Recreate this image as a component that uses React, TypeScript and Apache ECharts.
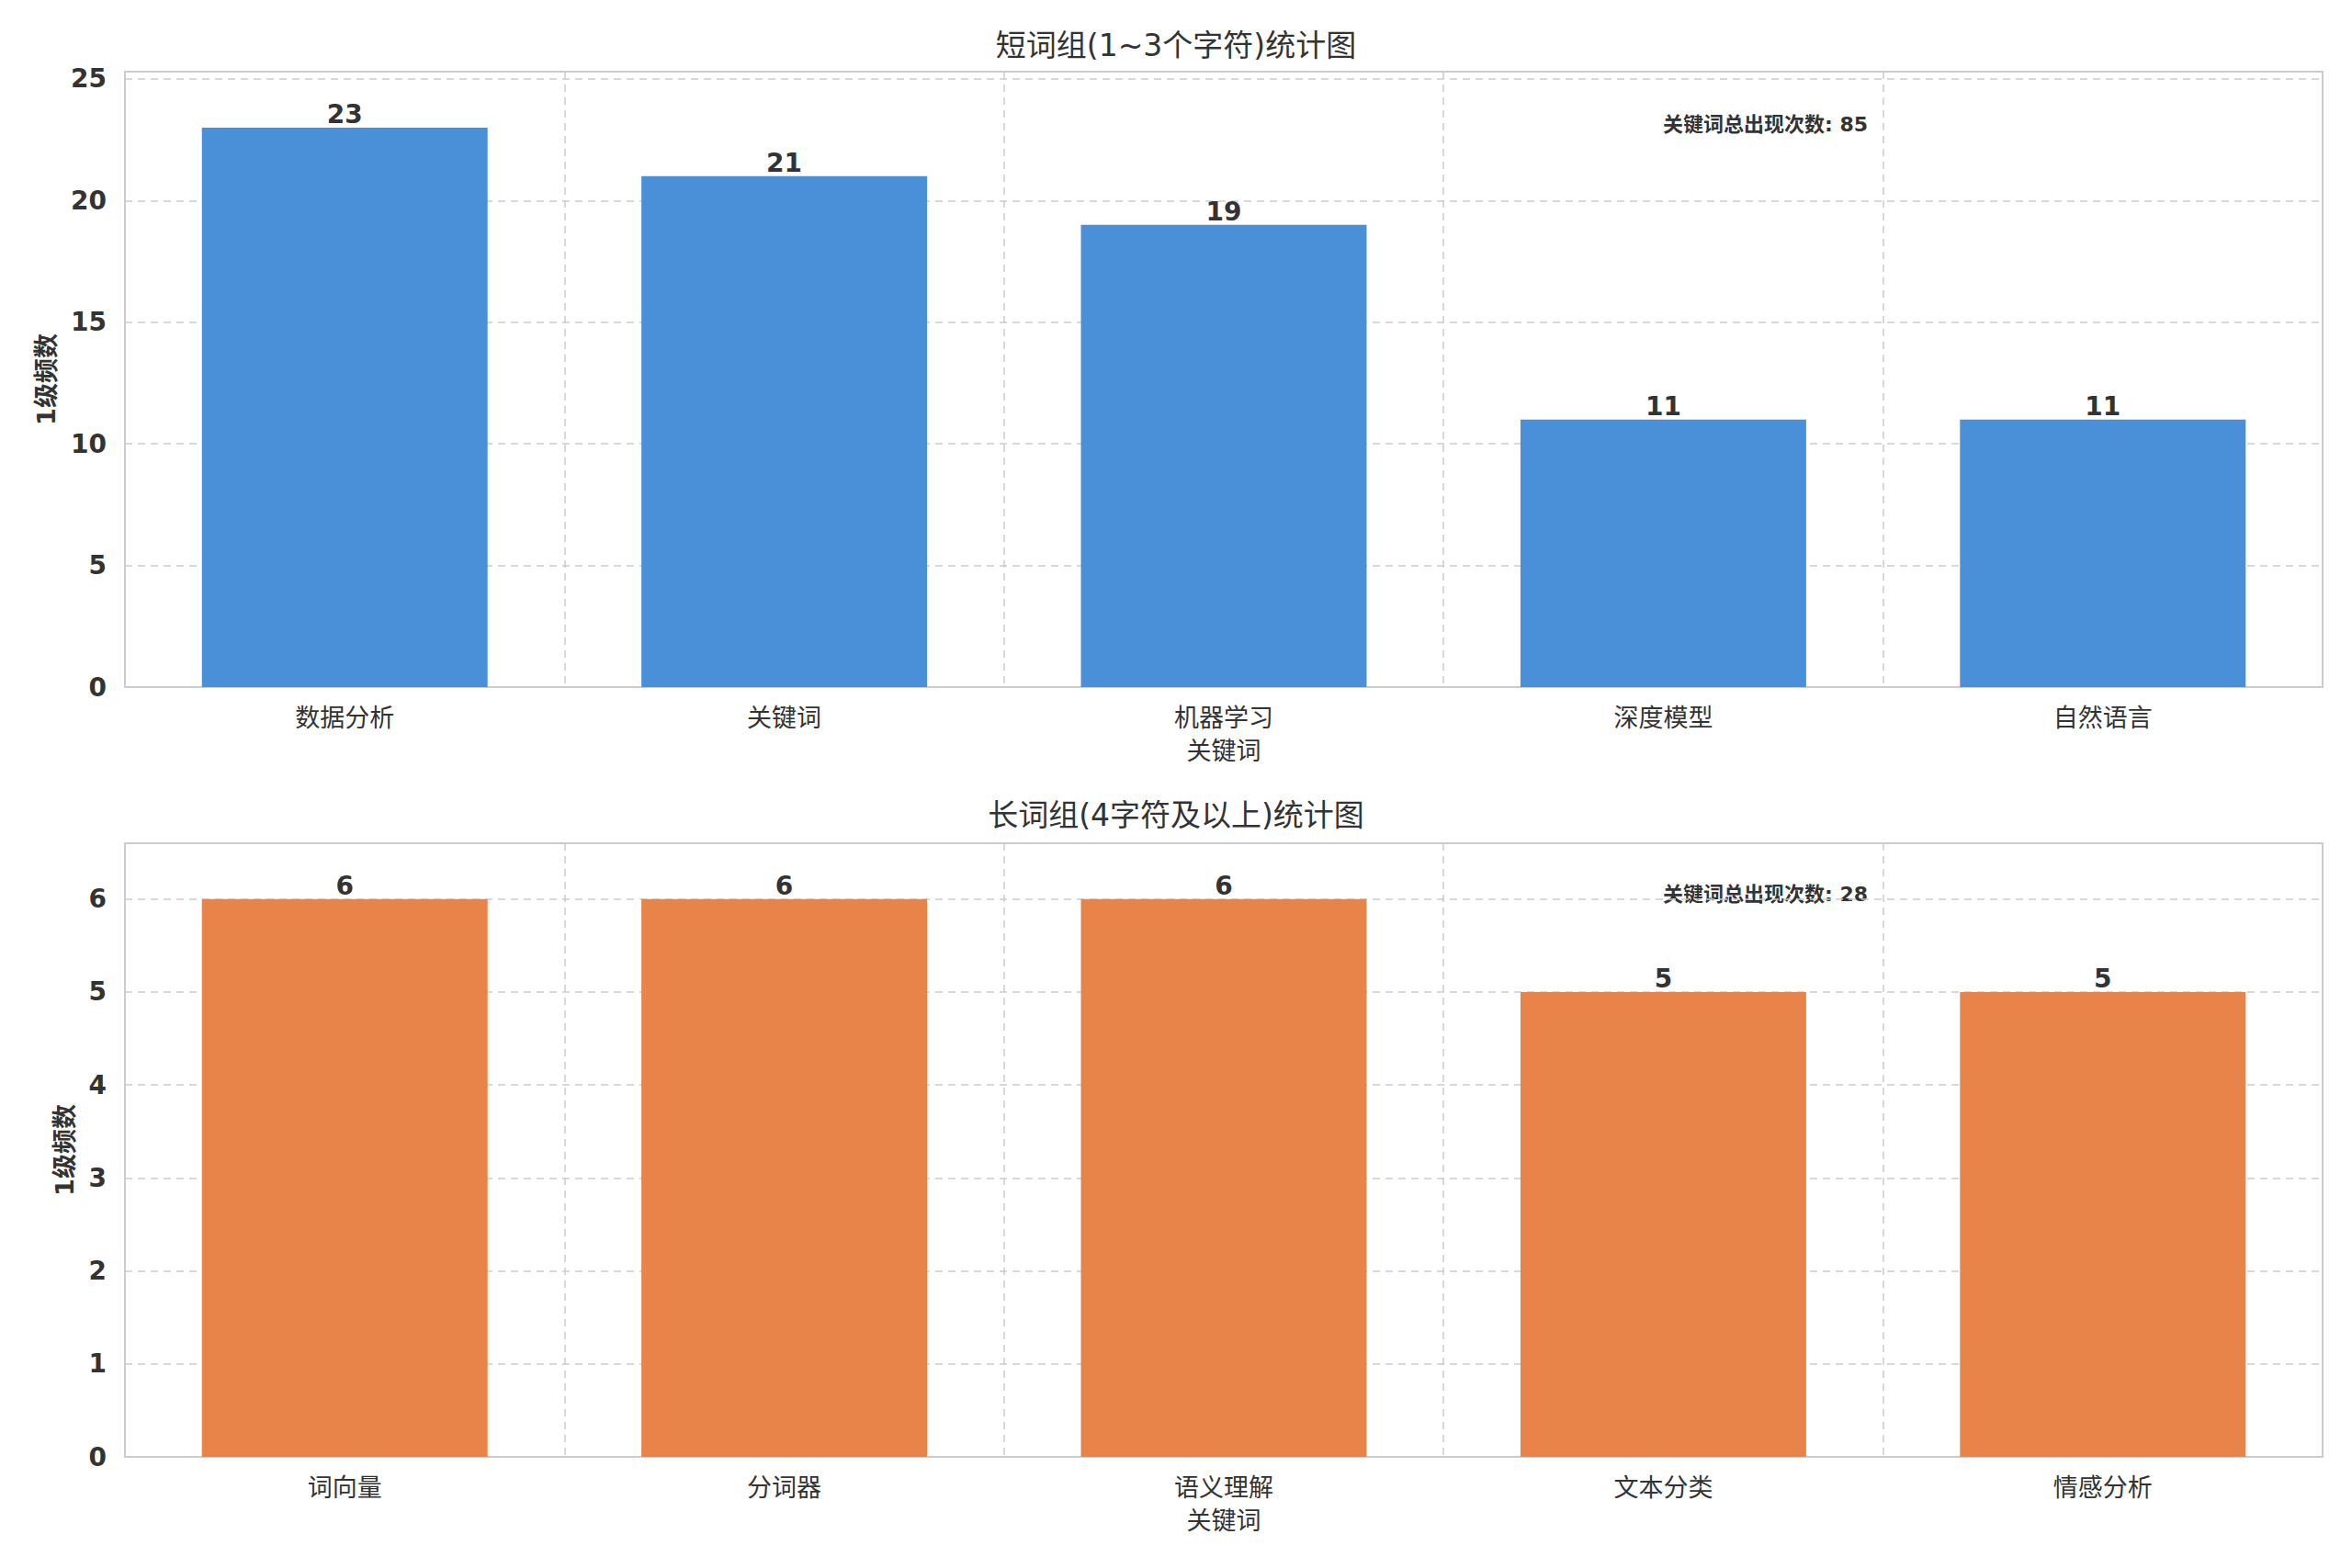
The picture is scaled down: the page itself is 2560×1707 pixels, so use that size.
import { useEffect, useRef } from "react";
import * as echarts from "echarts";

const shortTitle = "短词组(1~3个字符)统计图";
const longTitle = "长词组(4字符及以上)统计图";
const shortWords = ["数据分析", "关键词", "机器学习", "深度模型", "自然语言"];
const shortCounts = [23, 21, 19, 11, 11];
const longWords = ["词向量", "分词器", "语义理解", "文本分类", "情感分析"];
const longCounts = [6, 6, 6, 5, 5];
const shortTotal = 85;
const longTotal = 28;
const yName = "1级频数";
const xName = "关键词";

const FONT = "DejaVu Sans, Noto Sans CJK SC, sans-serif";
const grid = { color: "#cccccc", type: [8, 6] as number[], width: 1.5 };

function xAxis(idx: number, data: string[]) {
  return {
    type: "category", gridIndex: idx, data,
    name: xName, nameLocation: "middle", nameGap: 56,
    nameTextStyle: { fontSize: 27, color: "#333", fontFamily: FONT },
    axisLine: { show: false }, axisTick: { show: false },
    axisLabel: { fontSize: 27, color: "#333", margin: 20, fontFamily: FONT },
    splitLine: { show: true, lineStyle: grid },
  };
}

function yAxis(idx: number, max: number, interval: number) {
  return {
    type: "value", gridIndex: idx, min: 0, max, interval,
    name: yName, nameLocation: "middle", nameGap: idx === 0 ? 72 : 52,
    nameTextStyle: { fontSize: 27, color: "#333", fontWeight: "bold", fontFamily: FONT },
    axisLine: { show: false }, axisTick: { show: false },
    axisLabel: {
      fontSize: 28, color: "#333", fontWeight: "bold", margin: 20, fontFamily: FONT,
      formatter: (v: number) => (v > max - 0.5 && v % interval !== 0 ? "" : String(v)),
    },
    splitLine: { show: true, lineStyle: grid },
  };
}

function bars(idx: number, data: number[], color: string) {
  return {
    type: "bar", xAxisIndex: idx, yAxisIndex: idx, data,
    barCategoryGap: "35%", itemStyle: { color },
    label: { show: true, position: "top", distance: 0, fontSize: 28, fontWeight: "bold", color: "#333", fontFamily: FONT },
  };
}

export default function App() {
  const ref = useRef<HTMLDivElement>(null);
  useEffect(() => {
    document.body.style.margin = "0";
    if (!ref.current) return;
    const chart = echarts.init(ref.current, null, { renderer: "svg" });
    chart.setOption({
      animation: false,
      backgroundColor: "#fff",
      textStyle: { fontFamily: FONT },
      title: [
        { text: shortTitle, left: "center", top: 28, textStyle: { fontSize: 33, fontWeight: "normal", color: "#333", fontFamily: FONT } },
        { text: longTitle, left: "center", top: 866, textStyle: { fontSize: 33, fontWeight: "normal", color: "#333", fontFamily: FONT } },
      ],
      grid: [
        { left: 136, right: 32, top: 78, height: 670, show: true, borderColor: "#cccccc", borderWidth: 2 },
        { left: 136, right: 32, top: 918, height: 668, show: true, borderColor: "#cccccc", borderWidth: 2 },
      ],
      xAxis: [xAxis(0, shortWords), xAxis(1, longWords)],
      yAxis: [yAxis(0, 25.3, 5), yAxis(1, 6.6, 1)],
      series: [bars(0, shortCounts, "#4a90d9"), bars(1, longCounts, "#e8844a")],
      graphic: [
        { type: "text", left: 1810, top: 124, style: { text: `关键词总出现次数: ${shortTotal}`, fontSize: 22, fontWeight: "bold", fill: "#333", fontFamily: FONT } },
        { type: "text", left: 1810, top: 962, style: { text: `关键词总出现次数: ${longTotal}`, fontSize: 22, fontWeight: "bold", fill: "#333", fontFamily: FONT } },
      ],
    });
    return () => chart.dispose();
  }, []);
  return <div ref={ref} style={{ width: 2560, height: 1707 }} />;
}
